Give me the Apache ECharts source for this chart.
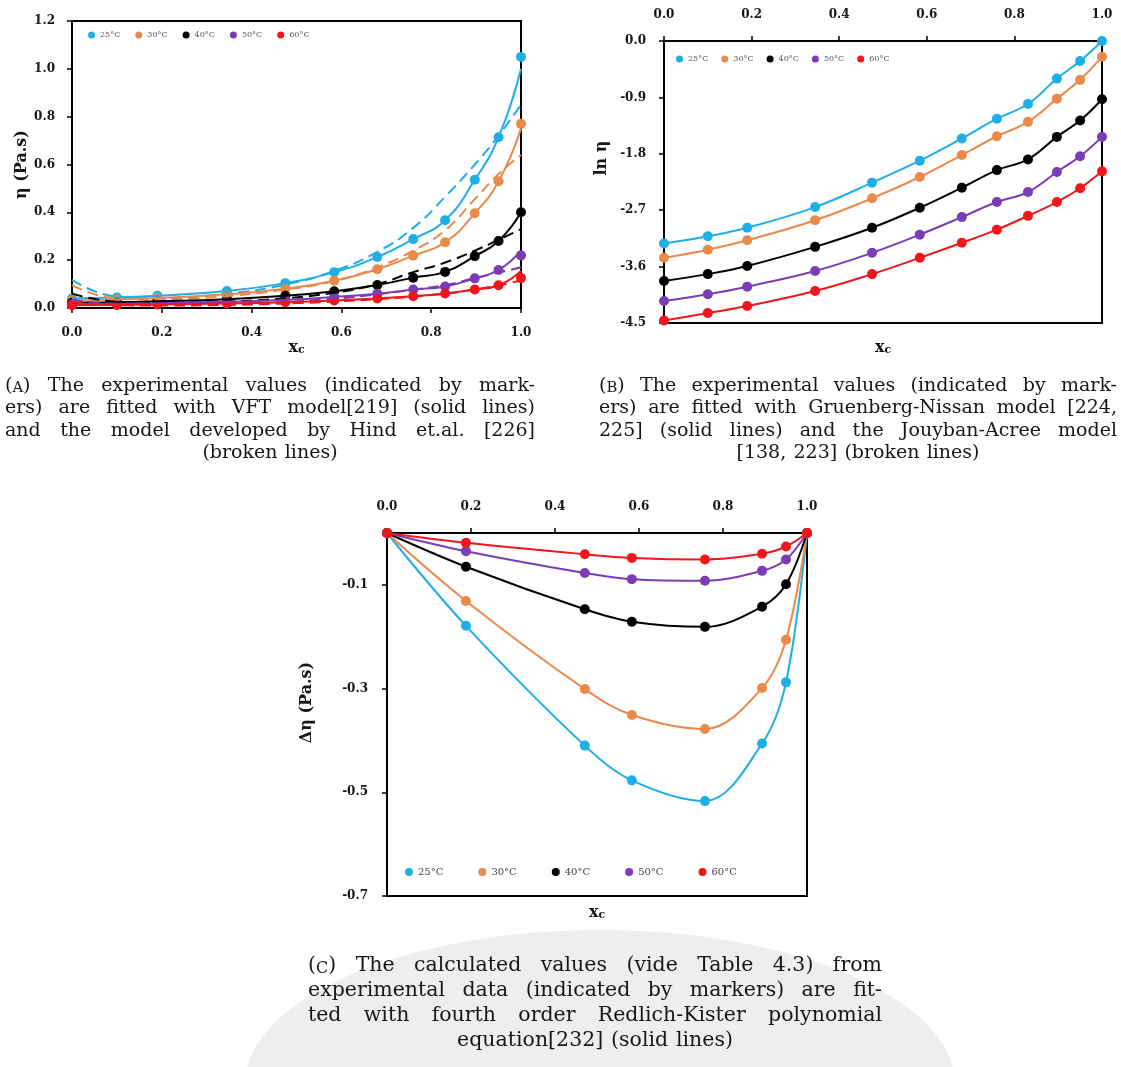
<!DOCTYPE html>
<html><head><meta charset="utf-8">
<script src="https://cdn.jsdelivr.net/npm/echarts@6/dist/echarts.min.js"></script>
<style>html,body{margin:0;padding:0;background:#fff}#c{width:1121px;height:1067px}</style>
</head><body><div id="c"></div>
<script>
// ---------- data ----------
const temps = ['25°C', '30°C', '40°C', '50°C', '60°C'];
const colors = ['#1DAFE6', '#E9894A', '#000000', '#7B3CB4', '#F2161C'];
const xMix = [0, 0.1, 0.19, 0.345, 0.475, 0.584, 0.68, 0.76, 0.831, 0.897, 0.95, 1.0];

// (A) viscosity, experimental markers
const etaA25 = [0.040, 0.044, 0.051, 0.071, 0.104, 0.150, 0.213, 0.288, 0.367, 0.536, 0.714, 1.05];
const etaA30 = [0.031, 0.036, 0.042, 0.057, 0.081, 0.114, 0.162, 0.219, 0.275, 0.396, 0.530, 0.77];
const etaA40 = [0.022, 0.024, 0.028, 0.037, 0.051, 0.070, 0.096, 0.127, 0.151, 0.217, 0.280, 0.40];
const etaA50 = [0.016, 0.018, 0.020, 0.026, 0.034, 0.046, 0.060, 0.077, 0.090, 0.124, 0.159, 0.22];
const etaA60 = [0.012, 0.013, 0.015, 0.019, 0.024, 0.031, 0.040, 0.049, 0.061, 0.077, 0.095, 0.125];
// (A) VFT fit (solid)
const vftA25 = [0.040, 0.044, 0.051, 0.071, 0.104, 0.150, 0.213, 0.288, 0.367, 0.536, 0.714, 1.00];
const vftA30 = [0.031, 0.036, 0.042, 0.057, 0.081, 0.114, 0.162, 0.219, 0.275, 0.396, 0.530, 0.75];
const vftA40 = [0.022, 0.024, 0.028, 0.037, 0.051, 0.070, 0.096, 0.127, 0.151, 0.217, 0.280, 0.40];
const vftA50 = [0.016, 0.018, 0.020, 0.026, 0.034, 0.046, 0.060, 0.077, 0.090, 0.124, 0.159, 0.24];
const vftA60 = [0.012, 0.013, 0.015, 0.019, 0.024, 0.031, 0.040, 0.049, 0.061, 0.077, 0.095, 0.155];
// (A) Hind et al. model (broken)
const hindA25 = [0.118, 0.048, 0.042, 0.060, 0.098, 0.155, 0.235, 0.335, 0.465, 0.600, 0.720, 0.85];
const hindA30 = [0.096, 0.040, 0.035, 0.050, 0.077, 0.113, 0.170, 0.240, 0.325, 0.455, 0.560, 0.64];
const hindA40 = [0.060, 0.026, 0.022, 0.027, 0.041, 0.064, 0.100, 0.150, 0.190, 0.240, 0.285, 0.33];
const hindA50 = [0.035, 0.016, 0.013, 0.018, 0.026, 0.039, 0.057, 0.077, 0.096, 0.125, 0.148, 0.17];
const hindA60 = [0.025, 0.012, 0.010, 0.013, 0.019, 0.027, 0.037, 0.048, 0.060, 0.078, 0.095, 0.115];

// (B) ln(viscosity)
const lnB25 = [-3.23, -3.115, -2.98, -2.65, -2.26, -1.91, -1.555, -1.24, -1.006, -0.60, -0.32, 0.0];
const lnB30 = [-3.46, -3.33, -3.18, -2.86, -2.51, -2.17, -1.82, -1.52, -1.29, -0.92, -0.62, -0.25];
const lnB40 = [-3.83, -3.72, -3.59, -3.285, -2.98, -2.66, -2.34, -2.06, -1.89, -1.53, -1.27, -0.93];
const lnB50 = [-4.15, -4.04, -3.92, -3.67, -3.38, -3.09, -2.81, -2.57, -2.41, -2.09, -1.84, -1.53];
const lnB60 = [-4.46, -4.34, -4.23, -3.99, -3.72, -3.46, -3.22, -3.01, -2.79, -2.57, -2.35, -2.08];

// (C) viscosity deviation
const xDev = [0, 0.188, 0.471, 0.583, 0.757, 0.893, 0.95, 1.0];
const devC25 = [0, -0.179, -0.410, -0.477, -0.517, -0.406, -0.288, 0];
const devC30 = [0, -0.131, -0.301, -0.351, -0.378, -0.299, -0.206, 0];
const devC40 = [0, -0.065, -0.147, -0.171, -0.181, -0.142, -0.099, 0];
const devC50 = [0, -0.035, -0.077, -0.089, -0.092, -0.073, -0.051, 0];
const devC60 = [0, -0.019, -0.041, -0.048, -0.051, -0.040, -0.026, 0];
const yTicksC = [-0.7, -0.5, -0.3, -0.1];

// captions
const capA = ['(A) The experimental values (indicated by mark-',
  'ers) are fitted with VFT model[219] (solid lines)',
  'and the model developed by Hind et.al. [226]',
  '(broken lines)'];
const capB = ['(B) The experimental values (indicated by mark-',
  'ers) are fitted with Gruenberg-Nissan model [224,',
  '225] (solid lines) and the Jouyban-Acree model',
  '[138, 223] (broken lines)'];
const capC = ['(C) The calculated values (vide Table 4.3) from',
  'experimental data (indicated by markers) are fit-',
  'ted with fourth order Redlich-Kister polynomial',
  'equation[232] (solid lines)'];

// ---------- build ----------
const SERIF = '"DejaVu Serif", serif';
const INK = '#161616';
const pairs = (xs, ys) => xs.map((x, i) => [x, ys[i]]);
const fmt = v => (Math.abs(v) < 1e-9 ? 0 : v).toFixed(1);

const etaA = [etaA25, etaA30, etaA40, etaA50, etaA60];
const vftA = [vftA25, vftA30, vftA40, vftA50, vftA60];
const hindA = [hindA25, hindA30, hindA40, hindA50, hindA60];
const lnB = [lnB25, lnB30, lnB40, lnB50, lnB60];
const devC = [devC25, devC30, devC40, devC50, devC60];

const tickLabel = (margin) => ({fontFamily: SERIF, fontWeight: 'bold', fontSize: 12, color: INK, margin: margin, formatter: fmt});
const axLine = {show: true, onZero: false, lineStyle: {color: '#000', width: 2}};
const axTick = {show: true, inside: false, length: 5, lineStyle: {color: '#000', width: 1.5}};
const nameStyle = (pad) => ({fontFamily: SERIF, fontWeight: 'bold', fontSize: 16, color: INK, padding: pad || 0,
  rich: {s: {fontFamily: SERIF, fontWeight: 'bold', fontSize: 11, color: INK, verticalAlign: 'bottom', lineHeight: 8}}});
const xName = 'x{s|c}';

const gridBase = {show: true, borderColor: '#000', borderWidth: 2, backgroundColor: '#fff', containLabel: false, outerBoundsMode: 'none'};

const series = [];
temps.forEach((t, i) => {
  series.push({name: t, type: 'line', xAxisIndex: 0, yAxisIndex: 0, data: pairs(xMix, hindA[i]), smooth: true,
    showSymbol: false, lineStyle: {color: colors[i], width: 2, type: [11, 6]}, itemStyle: {color: colors[i]}});
  series.push({name: t, type: 'line', xAxisIndex: 0, yAxisIndex: 0, data: pairs(xMix, vftA[i]), smooth: true,
    showSymbol: false, lineStyle: {color: colors[i], width: 2}, itemStyle: {color: colors[i]}});
  series.push({name: t, type: 'scatter', xAxisIndex: 0, yAxisIndex: 0, data: pairs(xMix, etaA[i]),
    symbolSize: 10, itemStyle: {color: colors[i], opacity: 1}});
});
temps.forEach((t, i) => {
  series.push({name: t, type: 'line', xAxisIndex: 1, yAxisIndex: 1, data: pairs(xMix, lnB[i]), smooth: 0.4,
    symbol: 'circle', symbolSize: 10, showAllSymbol: true, lineStyle: {color: colors[i], width: 2}, itemStyle: {color: colors[i]}});
});
temps.forEach((t, i) => {
  series.push({name: t, type: 'line', xAxisIndex: 3, yAxisIndex: 2, data: pairs(xDev, devC[i]), smooth: 0.35,
    symbol: 'circle', symbolSize: 10, showAllSymbol: true, lineStyle: {color: colors[i], width: 2}, itemStyle: {color: colors[i]}});
});

// captions: justified word placement
const mctx = document.createElement('canvas').getContext('2d');
function tw(t, fs) { mctx.font = fs + 'px ' + SERIF; return mctx.measureText(t).width; }
const SC = 0.78;
function wordW(w, fs) {
  const m = /^\(([A-Z])\)$/.exec(w);
  if (m) return tw('(', fs) + tw(')', fs) + tw(m[1], fs * SC);
  return tw(w, fs);
}
const graphics = [
  {type: 'ellipse', silent: true, z: -10, shape: {cx: 600, cy: 1085, rx: 355, ry: 155}, style: {fill: '#eeeeee'}}
];
function wordEl(w, x, y, fs) {
  const m = /^\(([A-Z])\)$/.exec(w);
  graphics.push({type: 'text', silent: true, style: {
    text: m ? '({sc|' + m[1] + '})' : w, x: x, y: y, fontFamily: SERIF, fontSize: fs, fill: INK,
    align: 'left', verticalAlign: 'middle',
    rich: {sc: {fontFamily: SERIF, fontSize: fs * SC, fill: INK, verticalAlign: 'bottom'}}}});
}
function caption(lines, x0, x1, y0, dy, fs) {
  lines.forEach((line, k) => {
    const words = line.split(/\s+/);
    const ws = words.map(w => wordW(w, fs));
    const sum = ws.reduce((a, b) => a + b, 0);
    const y = y0 + k * dy;
    let gap, x;
    if (k < lines.length - 1) { gap = (x1 - x0 - sum) / (words.length - 1); x = x0; }
    else { gap = tw(' ', fs) * 1.2; x = (x0 + x1) / 2 - (sum + gap * (words.length - 1)) / 2; }
    words.forEach((w, j) => { wordEl(w, x, y, fs); x += ws[j] + gap; });
  });
}
caption(capA, 5, 535, 386, 22.5, 19);
caption(capB, 599, 1117, 386, 22.5, 19);
caption(capC, 308, 882, 966, 25, 20.5);

const legendBase = {data: temps, icon: 'circle', padding: 0, selectedMode: false};

const option = {
  animation: false,
  backgroundColor: '#fff',
  grid: [
    Object.assign({left: 72, top: 21, width: 449, height: 287}, gridBase),
    Object.assign({left: 664, top: 41, width: 438, height: 282}, gridBase),
    Object.assign({left: 387, top: 533, width: 420, height: 363}, gridBase)
  ],
  legend: [
    Object.assign({left: 88, top: 31, itemWidth: 7, itemHeight: 7, itemGap: 15,
      textStyle: {fontFamily: SERIF, fontSize: 8, color: '#555'}}, legendBase),
    Object.assign({left: 676, top: 55, itemWidth: 7, itemHeight: 7, itemGap: 13,
      textStyle: {fontFamily: SERIF, fontSize: 8, color: '#555'}}, legendBase),
    Object.assign({left: 405, top: 867, itemWidth: 8, itemHeight: 8, itemGap: 35,
      textStyle: {fontFamily: SERIF, fontSize: 10, color: '#444'}}, legendBase)
  ],
  xAxis: [
    {gridIndex: 0, type: 'value', position: 'bottom', min: 0, max: 1, interval: 0.2,
      axisLine: axLine, axisTick: axTick, splitLine: {show: false}, axisLabel: tickLabel(19),
      name: xName, nameLocation: 'middle', nameGap: 29, nameTextStyle: nameStyle()},
    {gridIndex: 1, type: 'value', position: 'top', min: 0, max: 1, interval: 0.2,
      axisLine: axLine, axisTick: axTick, splitLine: {show: false}, axisLabel: tickLabel(20)},
    {gridIndex: 1, type: 'value', position: 'bottom', min: 0, max: 1, interval: 0.2,
      axisLine: axLine, axisTick: {show: false}, splitLine: {show: false}, axisLabel: {show: false},
      name: xName, nameLocation: 'middle', nameGap: 17, nameTextStyle: nameStyle()},
    {gridIndex: 2, type: 'value', position: 'top', min: 0, max: 1, interval: 0.2,
      axisLine: axLine, axisTick: axTick, splitLine: {show: false}, axisLabel: tickLabel(20)},
    {gridIndex: 2, type: 'value', position: 'bottom', min: 0, max: 1, interval: 0.2,
      axisLine: axLine, axisTick: {show: false}, splitLine: {show: false}, axisLabel: {show: false},
      name: xName, nameLocation: 'middle', nameGap: 9, nameTextStyle: nameStyle()}
  ],
  yAxis: [
    {gridIndex: 0, type: 'value', min: 0, max: 1.2, interval: 0.2,
      axisLine: axLine, axisTick: axTick, splitLine: {show: false}, axisLabel: tickLabel(17),
      name: 'η (Pa.s)', nameLocation: 'middle', nameGap: 42, nameTextStyle: nameStyle()},
    {gridIndex: 1, type: 'value', min: -4.5, max: 0, interval: 0.9,
      axisLine: axLine, axisTick: axTick, splitLine: {show: false}, axisLabel: tickLabel(18),
      name: 'ln η', nameLocation: 'middle', nameGap: 54, nameTextStyle: nameStyle([0, 0, 0, 48])},
    {gridIndex: 2, type: 'value', min: -0.7, max: 0,
      axisLine: axLine, axisTick: Object.assign({customValues: yTicksC}, axTick), splitLine: {show: false},
      axisLabel: Object.assign({customValues: yTicksC}, tickLabel(19)),
      name: 'Δη (Pa.s)', nameLocation: 'middle', nameGap: 72, nameTextStyle: nameStyle([0, 0, 0, 24])}
  ],
  graphic: graphics,
  series: series
};
const chart = echarts.init(document.getElementById('c'), null, {renderer: 'canvas'});
chart.setOption(option);
</script>
</body></html>
